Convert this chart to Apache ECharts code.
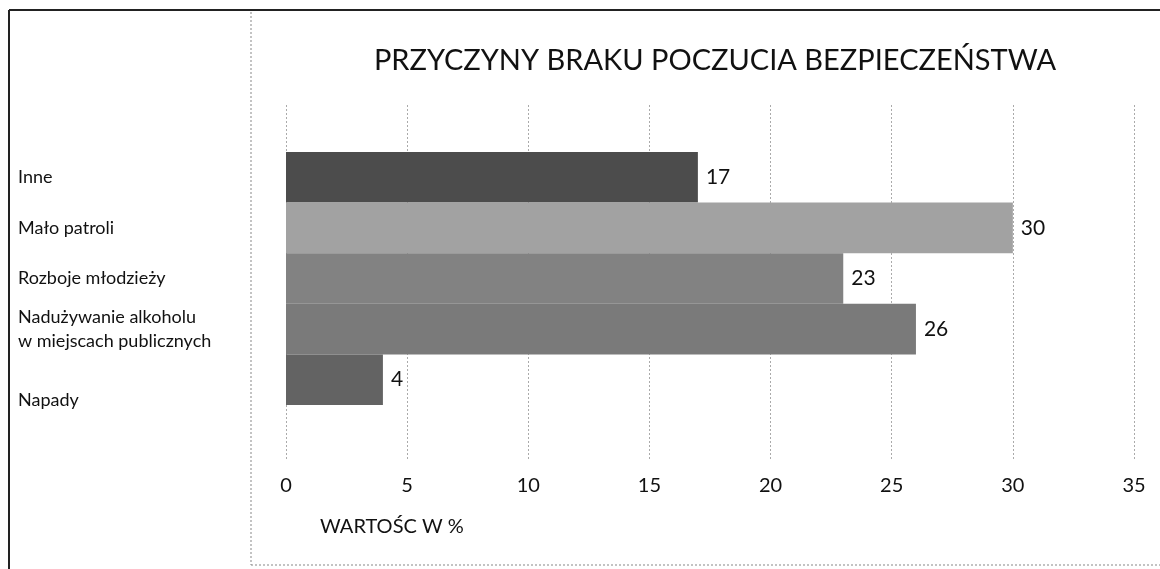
<!DOCTYPE html>
<html>
<head>
<meta charset="utf-8">
<script src="https://cdn.jsdelivr.net/npm/echarts@6/dist/echarts.min.js"></script>
<style>html,body{margin:0;padding:0;background:#fff}#c{width:1160px;height:569px}</style>
</head>
<body>
<div id="c"></div>
<script>
const categories = ['Inne', 'Mało patroli', 'Rozboje młodzieży', 'Nadużywanie alkoholu\nw miejscach publicznych', 'Napady'];
const values = [17, 30, 23, 26, 4];
const barColors = ['#4c4c4c', '#a2a2a2', '#828282', '#7a7a7a', '#636363'];
const xTicks = [0, 5, 10, 15, 20, 25, 30, 35];
const titleText = 'PRZYCZYNY BRAKU POCZUCIA BEZPIECZEŃSTWA';
const axisTitle = 'WARTOŚC W %';

const font = 'Lato, "Open Sans", sans-serif';
const chart = echarts.init(document.getElementById('c'), null, {renderer: 'canvas'});
const xMin = xTicks[0], xMax = xTicks[xTicks.length - 1], step = xTicks[1] - xTicks[0];

chart.setOption({
  animation: false,
  backgroundColor: '#fff',
  textStyle: {fontFamily: font},
  title: [
    {text: titleText, left: 710, top: 41, textAlign: 'center',
     textStyle: {fontFamily: font, fontSize: 29, fontWeight: 'normal', color: '#111'}},
    {text: axisTitle, left: 315, top: 512,
     textStyle: {fontFamily: font, fontSize: 20, fontWeight: 'normal', color: '#111'}}
  ],
  graphic: [
    {type: 'line', shape: {x1: 9, y1: 10, x2: 1160, y2: 10}, style: {stroke: '#222', lineWidth: 2}},
    {type: 'line', shape: {x1: 9, y1: 10, x2: 9, y2: 569}, style: {stroke: '#222', lineWidth: 2}},
    {type: 'line', shape: {x1: 251, y1: 12, x2: 251, y2: 565}, style: {stroke: '#888', lineWidth: 1, lineDash: [2, 2]}},
    {type: 'line', shape: {x1: 251, y1: 565, x2: 1160, y2: 565}, style: {stroke: '#888', lineWidth: 1, lineDash: [2, 2]}}
  ],
  grid: [
    {left: 286, right: 26, top: 105, bottom: 109},
    {left: 286, right: 26, top: 152, bottom: 164}
  ],
  xAxis: [
    {gridIndex: 0, type: 'value', min: xMin, max: xMax, interval: step,
     axisLine: {show: false}, axisTick: {show: false},
     axisLabel: {margin: 16, fontSize: 20, color: '#111', fontFamily: font},
     splitLine: {show: true, lineStyle: {color: '#aaa', type: [2, 2], width: 1}}},
    {gridIndex: 1, type: 'value', min: xMin, max: xMax, interval: step,
     axisLine: {show: false}, axisTick: {show: false}, axisLabel: {show: false}, splitLine: {show: false}}
  ],
  yAxis: [
    {gridIndex: 0, type: 'value', show: false},
    {gridIndex: 1, type: 'category', inverse: true, data: categories,
     axisLine: {show: false}, axisTick: {show: false},
     axisLabel: {align: 'left', margin: 268, fontSize: 18, color: '#111', fontFamily: font, lineHeight: 24,
       formatter: (v, i) => i === categories.length - 1 ? '{low|' + v + '}' : v,
       rich: {low: {fontSize: 18, fontFamily: font, color: '#111', padding: [40, 0, 0, 0]}}}}
  ],
  series: [{
    type: 'bar', xAxisIndex: 1, yAxisIndex: 1,
    data: values,
    barCategoryGap: '0%',
    itemStyle: {color: p => barColors[p.dataIndex]},
    label: {show: true, position: 'right', distance: 8, fontSize: 21, color: '#111', fontFamily: font}
  }]
});
</script>
</body>
</html>
